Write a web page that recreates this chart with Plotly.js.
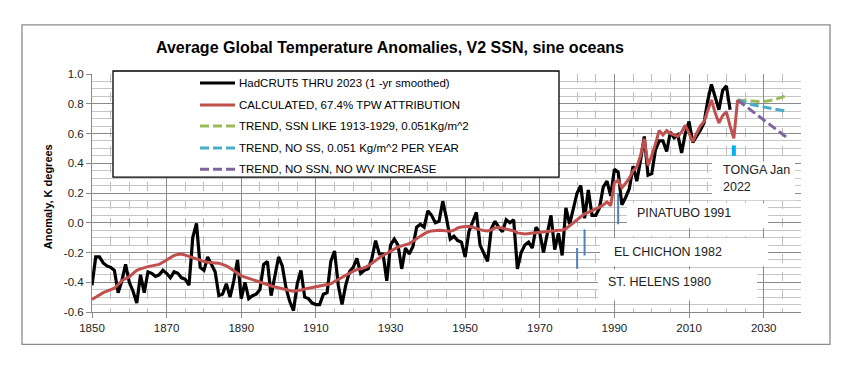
<!DOCTYPE html>
<html>
<head>
<meta charset="utf-8">
<script src="https://cdn.plot.ly/plotly-3.0.1.min.js"></script>
<style>
  html, body { margin: 0; padding: 0; background: #fff; }
  #chart { width: 854px; height: 373px; }
</style>
</head>
<body>
<div id="chart"></div>
<script>
// ---------------- DATA ----------------
const chartTitle = "Average Global Temperature Anomalies, V2 SSN, sine oceans";
const yAxisTitle = "Anomaly, K degrees";

const seriesNames = [
  "HadCRUT5 THRU 2023 (1 -yr smoothed)",
  "CALCULATED, 67.4% TPW ATTRIBUTION",
  "TREND, SSN LIKE 1913-1929, 0.051Kg/m^2",
  "TREND, NO SS, 0.051 Kg/m^2 PER YEAR",
  "TREND, NO SSN, NO WV INCREASE"
];

// HadCRUT5 (1-yr smoothed), 1850 .. 2021
const hadStartYear = 1850;
const hadValues = [
  -0.42,-0.23,-0.23,-0.27,-0.29,-0.30,-0.32,-0.47,-0.39,-0.28,
  -0.40,-0.46,-0.54,-0.35,-0.47,-0.33,-0.34,-0.36,-0.35,-0.32,
  -0.34,-0.37,-0.33,-0.34,-0.37,-0.38,-0.42,-0.10,-0.005,-0.30,
  -0.32,-0.23,-0.28,-0.33,-0.49,-0.48,-0.41,-0.50,-0.39,-0.25,
  -0.51,-0.40,-0.51,-0.49,-0.48,-0.45,-0.28,-0.26,-0.49,-0.36,
  -0.23,-0.29,-0.44,-0.53,-0.59,-0.41,-0.32,-0.50,-0.51,-0.54,
  -0.55,-0.55,-0.48,-0.47,-0.26,-0.19,-0.42,-0.55,-0.42,-0.33,
  -0.30,-0.24,-0.34,-0.32,-0.31,-0.24,-0.12,-0.21,-0.21,-0.39,
  -0.15,-0.11,-0.15,-0.31,-0.17,-0.21,-0.16,-0.03,-0.01,-0.03,
   0.08, 0.05, 0.00, 0.01, 0.145, 0.03,-0.11,-0.09,-0.12,-0.13,
  -0.23,-0.06, 0.01, 0.07,-0.15,-0.20,-0.26,-0.04, 0.01,-0.03,
  -0.06, 0.02, 0.00, 0.02,-0.31,-0.20,-0.15,-0.13,-0.17,-0.03,
  -0.07,-0.20,-0.07, 0.05,-0.18,-0.07,-0.22, 0.10,-0.01, 0.09,
   0.20, 0.25, 0.03, 0.22, 0.05, 0.05, 0.10, 0.24, 0.28, 0.18,
   0.36, 0.34, 0.12, 0.17, 0.23, 0.38, 0.28, 0.42, 0.58, 0.32,
   0.33, 0.49, 0.55, 0.55, 0.48, 0.61, 0.57, 0.59, 0.47, 0.60,
   0.68, 0.54, 0.58, 0.62, 0.67, 0.82, 0.93, 0.85, 0.76, 0.89,
   0.92, 0.76
];

// Calculated, 1850 .. 2023
const calcStartYear = 1850;
const calcValues = [
  -0.516,-0.50,-0.485,-0.47,-0.46,-0.45,-0.44,-0.415,-0.39,-0.375,
  -0.364,-0.34,-0.32,-0.31,-0.30,-0.295,-0.29,-0.285,-0.28,-0.265,
  -0.25,-0.235,-0.22,-0.213,-0.21,-0.218,-0.227,-0.236,-0.245,-0.253,
  -0.26,-0.265,-0.27,-0.27,-0.272,-0.28,-0.29,-0.305,-0.32,-0.34,
  -0.357,-0.365,-0.37,-0.38,-0.39,-0.395,-0.405,-0.415,-0.425,-0.432,
  -0.438,-0.443,-0.45,-0.456,-0.46,-0.458,-0.452,-0.445,-0.44,-0.435,
  -0.432,-0.43,-0.425,-0.42,-0.41,-0.395,-0.38,-0.365,-0.35,-0.335,
  -0.325,-0.315,-0.31,-0.303,-0.29,-0.27,-0.25,-0.235,-0.22,-0.205,
  -0.19,-0.175,-0.163,-0.155,-0.15,-0.14,-0.125,-0.105,-0.09,-0.075,
  -0.062,-0.055,-0.05,-0.05,-0.052,-0.055,-0.057,-0.05,-0.035,-0.028,
  -0.024,-0.024,-0.03,-0.04,-0.046,-0.052,-0.055,-0.048,-0.035,-0.03,
  -0.035,-0.04,-0.046,-0.055,-0.068,-0.073,-0.075,-0.073,-0.07,-0.065,
  -0.062,-0.06,-0.057,-0.055,-0.053,-0.05,-0.05,-0.04,-0.02, 0.0,
   0.02, 0.04, 0.06, 0.07, 0.08, 0.09, 0.105, 0.12, 0.14, 0.115,
   0.27, 0.285, 0.235, 0.265, 0.30, 0.35, 0.375, 0.45, 0.565, 0.385,
   0.45, 0.53, 0.62, 0.59, 0.62, 0.60, 0.59, 0.58, 0.61, 0.655,
   0.60, 0.545, 0.60, 0.65, 0.68, 0.75, 0.825, 0.74, 0.67, 0.72,
   0.745, 0.65, 0.567, 0.825
];

// Trend projections
const trendYears   = [2023, 2025, 2027, 2029, 2031, 2033, 2035, 2036];
const trendSSN     = [0.825, 0.822, 0.818, 0.815, 0.818, 0.828, 0.845, 0.855];
const trendNoSS    = [0.825, 0.808, 0.793, 0.783, 0.773, 0.763, 0.754, 0.750];
const trendNoSSNWV = [0.825, 0.787, 0.748, 0.710, 0.672, 0.634, 0.596, 0.577];

// Volcanic eruption markers
const volcanoNames  = ["ST. HELENS 1980", "EL CHICHON 1982", "PINATUBO 1991", "TONGA Jan 2022"];
const volcanoYears  = [1980, 1982, 1991, 2022];
const volcanoTop    = [-0.17, -0.045, 0.20, 0.52];
const volcanoBottom = [-0.31, -0.22, -0.01, 0.45];

// Axis ticks
const xTickVals = [1850, 1870, 1890, 1910, 1930, 1950, 1970, 1990, 2010, 2030];
const xTickText = ["1850","1870","1890","1910","1930","1950","1970","1990","2010","2030"];
const yTickVals = [-0.6, -0.4, -0.2, 0.0, 0.2, 0.4, 0.6, 0.8, 1.0];
const yTickText = ["-0.6","-0.4","-0.2","0.0","0.2","0.4","0.6","0.8","1.0"];

// ---------------- BUILD ----------------
const hadYears = hadValues.map((_, i) => hadStartYear + i);
const calcYears = calcValues.map((_, i) => calcStartYear + i);

const FONT = "Liberation Sans, Arial, sans-serif";
const C_BLACK = "#000000", C_RED = "#C0504D", C_GREEN = "#9BBB59",
      C_CYAN = "#4BACC6", C_PURPLE = "#8064A2", C_VOLC = "#4F81BD", C_TONGA = "#00B0F0";
const DASH = "9px,4px";

const traces = [];
volcanoYears.forEach((yr, i) => {
  traces.push({
    x: [yr, yr], y: [volcanoTop[i], volcanoBottom[i]],
    type: "scatter", mode: "lines", name: volcanoNames[i],
    line: { color: i === 3 ? C_TONGA : C_VOLC, width: i === 3 ? 4 : 2 },
    hoverinfo: "skip", showlegend: false
  });
});
traces.push({ x: trendYears, y: trendSSN, type: "scatter", mode: "lines", name: seriesNames[2],
  line: { color: C_GREEN, width: 3, dash: DASH } });
traces.push({ x: trendYears, y: trendNoSS, type: "scatter", mode: "lines", name: seriesNames[3],
  line: { color: C_CYAN, width: 3, dash: DASH } });
traces.push({ x: trendYears, y: trendNoSSNWV, type: "scatter", mode: "lines", name: seriesNames[4],
  line: { color: C_PURPLE, width: 3, dash: DASH } });
traces.push({ x: hadYears, y: hadValues, type: "scatter", mode: "lines", name: seriesNames[0],
  line: { color: C_BLACK, width: 3.2 } });
traces.push({ x: calcYears, y: calcValues, type: "scatter", mode: "lines", name: seriesNames[1],
  line: { color: C_RED, width: 3 } });

// pixel helpers (plot area: left 92, top 74, 709 x 237.6)
const PL = 92, PT = 74, PW = 709, PH = 237.6;
const px2paperX = p => (p - PL) / PW;
const px2paperY = p => (PT + PH - p) / PH;

const shapes = [];
const annotations = [];

// outer chart border
shapes.push({ type: "rect", xref: "paper", yref: "paper",
  x0: px2paperX(22), x1: px2paperX(830), y0: px2paperY(344), y1: px2paperY(25),
  line: { color: "#8c8c8c", width: 1.3 }, fillcolor: "rgba(0,0,0,0)", layer: "above" });

// white label boxes for the volcano annotations
const boxes = [
  [712, 795, 161, 200],
  [627, 768, 203, 228],
  [600, 768, 238, 266],
  [598, 757, 269, 300]
];
boxes.forEach(b => shapes.push({ type: "rect", xref: "paper", yref: "paper",
  x0: px2paperX(b[0]), x1: px2paperX(b[1]), y0: px2paperY(b[3]), y1: px2paperY(b[2]),
  line: { width: 0 }, fillcolor: "#ffffff", layer: "above" }));

// legend box
shapes.push({ type: "rect", xref: "paper", yref: "paper",
  x0: px2paperX(113), x1: px2paperX(559), y0: px2paperY(177), y1: px2paperY(71),
  line: { color: "#000000", width: 1.3 }, fillcolor: "#ffffff", layer: "above" });

const legendRows = [83, 105, 126, 148, 169];
const legendColors = [C_BLACK, C_RED, C_GREEN, C_CYAN, C_PURPLE];
const legendDash = ["solid", "solid", DASH, DASH, DASH];
legendRows.forEach((ry, i) => {
  shapes.push({ type: "line", xref: "paper", yref: "paper",
    x0: px2paperX(200), x1: px2paperX(235), y0: px2paperY(ry), y1: px2paperY(ry),
    line: { color: legendColors[i], width: 3, dash: legendDash[i] }, layer: "above" });
  annotations.push({ xref: "paper", yref: "paper", x: px2paperX(237), y: px2paperY(ry),
    xanchor: "left", yanchor: "middle", showarrow: false, text: seriesNames[i],
    font: { family: FONT, size: 11.5, color: "#000" } });
});

// volcano labels
const volcLabels = [
  ["TONGA Jan", 721, 170],
  ["2022", 721, 187],
  ["PINATUBO 1991", 635, 213],
  ["EL CHICHON 1982", 612, 252],
  ["ST. HELENS 1980", 606, 282]
];
volcLabels.forEach(l => annotations.push({ xref: "paper", yref: "paper",
  x: px2paperX(l[1]), y: px2paperY(l[2]), xanchor: "left", yanchor: "middle",
  showarrow: false, text: l[0], font: { family: FONT, size: 12.5, color: "#222" } }));

// y-axis title
annotations.push({ xref: "paper", yref: "paper", x: px2paperX(48), y: px2paperY(197),
  xanchor: "center", yanchor: "middle", showarrow: false, textangle: -90,
  text: yAxisTitle, font: { family: FONT, size: 11, color: "#000", weight: "bold" } });

const layout = {
  width: 854, height: 373,
  margin: { l: PL, r: 854 - PL - PW, t: PT, b: 373 - PT - PH, pad: 0 },
  paper_bgcolor: "#ffffff", plot_bgcolor: "#ffffff",
  showlegend: false,
  title: { text: chartTitle, xref: "container", yref: "container",
    x: 390 / 854, xanchor: "center", y: 1 - 47 / 373, yanchor: "middle",
    font: { family: FONT, size: 16, color: "#000", weight: "bold" } },
  xaxis: {
    range: [1850, 2040], tickmode: "array", tickvals: xTickVals, ticktext: xTickText,
    showgrid: true, gridcolor: "#8a8a8a", gridwidth: 1,
    minor: { tickmode: "linear", tick0: 1850, dtick: 5, showgrid: true, griddash: "dash",
             gridcolor: "#bdbdbd", gridwidth: 1, ticks: "" },
    ticks: "outside", ticklen: 5, tickcolor: "#8a8a8a", tickwidth: 1,
    showline: true, linecolor: "#8a8a8a", linewidth: 1, zeroline: false,
    tickfont: { family: FONT, size: 11.5, color: "#222" }, fixedrange: true
  },
  yaxis: {
    range: [-0.6, 1.0], tickmode: "array", tickvals: yTickVals, ticktext: yTickText,
    showgrid: true, gridcolor: "#8a8a8a", gridwidth: 1,
    minor: { tickmode: "linear", tick0: -0.6, dtick: 0.05, showgrid: true,
             gridcolor: "#c6c6c6", gridwidth: 1, ticks: "" },
    ticks: "outside", ticklen: 5, tickcolor: "#8a8a8a", tickwidth: 1,
    showline: true, linecolor: "#8a8a8a", linewidth: 1, zeroline: false,
    tickfont: { family: FONT, size: 11.5, color: "#222" }, fixedrange: true
  },
  shapes: shapes,
  annotations: annotations
};

Plotly.newPlot("chart", traces, layout, { displayModeBar: false, staticPlot: true });
</script>
</body>
</html>
